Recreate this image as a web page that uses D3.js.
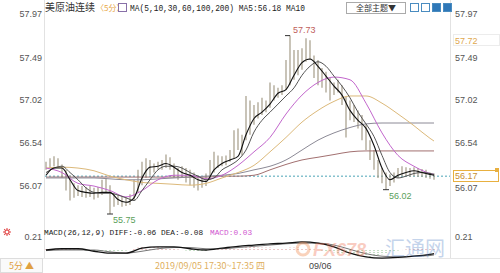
<!DOCTYPE html>
<html lang="zh">
<head>
<meta charset="utf-8">
<title>美原油连续</title>
<style>
  body { margin: 0; background: #fff; }
  svg { display: block; font-family: Arial, "Liberation Sans", sans-serif; }
</style>
</head>
<body>
<svg id="chart"></svg>
<script src="https://cdn.jsdelivr.net/npm/d3@7"></script>
<script>
// size
var W = 500, H = 273;

// price axis ticks
var yTicks = [57.97, 57.49, 57.02, 56.54, 56.07];
var macdTick = 0.21;
var xTickIdx = [67];
var xTickLab = ["09/06"];

// 5 min bars, high / low
var hi = [56.33,56.37,56.39,56.37,56.30,56.24,56.18,56.09,56.07,56.06,
          56.05,56.06,56.04,56.05,56.13,56.15,56.07,55.98,55.96,55.95,
          55.94,55.97,56.13,56.24,56.33,56.37,56.35,56.31,56.33,56.35,
          56.41,56.38,56.31,56.26,56.28,56.26,56.24,56.21,56.18,56.17,
          56.20,56.35,56.44,56.40,56.39,56.40,56.46,56.68,56.70,56.63,
          57.06,57.01,56.96,56.99,57.04,57.01,57.21,57.18,57.15,57.18,
          57.46,57.73,57.57,57.57,57.59,57.70,57.68,57.51,57.46,57.37,
          57.33,57.26,57.21,57.24,57.18,57.05,57.01,56.96,56.90,56.85,
          56.74,56.57,56.46,56.35,56.26,56.21,56.19,56.21,56.26,56.28,
          56.27,56.26,56.27,56.26,56.25,56.24,56.21,56.20];
var lo = [56.24,56.26,56.28,56.26,56.15,56.01,55.90,55.93,55.95,55.94,
          55.93,55.94,55.91,55.93,55.96,55.99,55.75,55.83,55.85,55.83,
          55.84,55.85,55.90,55.99,56.07,56.15,56.18,56.21,56.24,56.24,
          56.26,56.24,56.15,56.13,56.15,56.10,56.07,56.04,56.01,56.04,
          56.06,56.13,56.21,56.26,56.28,56.29,56.33,56.37,56.46,56.40,
          56.57,56.63,56.74,56.81,56.85,56.88,56.93,57.01,57.04,57.07,
          57.13,57.18,57.24,57.29,57.35,57.44,57.46,57.26,57.18,57.15,
          57.10,57.01,57.07,57.10,56.96,56.60,56.79,56.77,56.70,56.57,
          56.46,56.35,56.24,56.15,56.09,56.02,56.06,56.10,56.15,56.17,
          56.17,56.16,56.17,56.16,56.16,56.15,56.14,56.13];

// MA5 / MA10 read every 2 bars (plus last bar)
var maFineIdx = [0,2,4,6,8,10,12,14,16,18,20,22,24,26,28,30,32,34,36,38,40,42,44,46,48,
                 50,52,54,56,58,60,62,64,66,68,70,72,74,76,78,80,82,84,86,88,90,92,94,96,97];
var ma5 = [56.18,56.26,56.26,56.13,56.01,55.99,55.98,55.99,55.99,55.91,55.88,55.93,56.15,56.27,56.28,56.31,56.27,56.21,56.18,56.13,56.11,56.24,56.31,56.35,56.39,
           56.63,56.81,56.88,56.97,57.09,57.13,57.29,57.43,57.47,57.39,57.28,57.17,57.07,56.90,56.79,56.70,56.51,56.26,56.13,56.18,56.21,56.23,56.21,56.19,56.18];
var ma10 = [56.21,56.26,56.28,56.21,56.13,56.04,55.99,55.98,55.98,55.96,55.93,55.90,56.01,56.13,56.24,56.28,56.28,56.26,56.21,56.17,56.13,56.15,56.24,56.29,56.35,
            56.46,56.66,56.79,56.88,56.97,57.06,57.15,57.29,57.39,57.44,57.39,57.28,57.17,57.04,56.88,56.75,56.61,56.40,56.21,56.15,56.17,56.20,56.21,56.20,56.19];

// slower MAs and MACD read every 4 bars (plus last bar)
var maIdx = [0,4,8,12,16,20,24,28,32,36,40,44,48,52,56,60,64,68,72,76,80,84,88,92,96,97];
var ma30 = [56.26,56.21,56.09,56.06,56.01,55.94,56.01,56.13,56.18,56.18,56.14,56.18,56.29,56.44,56.60,56.86,57.07,57.21,57.27,57.24,56.98,56.65,56.40,56.28,56.20,56.19];
var ma60 = [56.26,56.27,56.26,56.23,56.17,56.13,56.10,56.09,56.08,56.07,56.09,56.15,56.21,56.29,56.44,56.60,56.77,56.90,57.00,57.06,57.06,56.98,56.86,56.73,56.59,56.56];
var ma100 = [56.15,56.15,56.15,56.15,56.14,56.13,56.13,56.14,56.15,56.16,56.17,56.18,56.20,56.24,56.28,56.35,56.46,56.57,56.65,56.71,56.75,56.76,56.76,56.76,56.76,56.76];
var ma200 = [56.16,56.16,56.16,56.16,56.16,56.16,56.16,56.16,56.16,56.16,56.16,56.17,56.17,56.18,56.24,56.30,56.35,56.38,56.41,56.44,56.45,56.45,56.45,56.45,56.45,56.45];
var diff = [0.00,0.02,0.02,-0.02,-0.05,-0.05,0.03,0.05,0.05,0.02,0.00,0.03,0.06,0.08,0.10,0.11,0.13,0.11,0.05,-0.05,-0.11,-0.13,-0.12,-0.10,-0.07,-0.06];
var dea = [-0.01,0.00,0.00,0.00,-0.03,-0.05,-0.02,0.02,0.04,0.04,0.02,0.02,0.04,0.06,0.08,0.10,0.11,0.11,0.08,0.01,-0.06,-0.10,-0.11,-0.10,-0.09,-0.08];
// MACD bars, one per candle
var hist = [0.02,0.02,0.03,0.03,0.03,0.02,0.01,0.01,0.01,0.00,
            -0.01,-0.02,-0.02,-0.03,-0.03,-0.03,-0.04,-0.04,-0.03,-0.02,
            -0.01,0.00,0.02,0.04,0.05,0.06,0.06,0.05,0.05,0.04,
            0.04,0.03,0.02,0.01,0.00,-0.01,-0.02,-0.03,-0.03,-0.02,
            -0.02,0.00,0.02,0.02,0.02,0.03,0.03,0.04,0.04,0.04,
            0.05,0.05,0.05,0.04,0.04,0.04,0.04,0.03,0.03,0.03,
            0.03,0.04,0.04,0.04,0.03,0.03,0.02,0.01,0.00,-0.01,
            -0.02,-0.03,-0.04,-0.05,-0.06,-0.07,-0.08,-0.09,-0.10,-0.10,
            -0.11,-0.11,-0.10,-0.09,-0.07,-0.05,-0.03,-0.02,-0.01,0.00,
            0.01,0.01,0.02,0.02,0.02,0.03,0.03,0.03];

var svg = d3.select('#chart').attr('width', W).attr('height', H);
svg.append('rect').attr('width', W).attr('height', H).attr('fill', '#fff');

var x = d3.scaleLinear().domain([0, hi.length - 1]).range([46, 434]);
var y = d3.scaleLinear().domain([55.75, 57.97]).range([214, 14]);
var ym = d3.scaleLinear().domain([-0.21, 0.21]).range([263, 237]);

// frame lines
svg.append('line').attr('x1', 44.5).attr('x2', 44.5).attr('y1', 0).attr('y2', 258).attr('stroke', '#e2e2e2');
svg.append('line').attr('x1', 450.5).attr('x2', 450.5).attr('y1', 0).attr('y2', 258).attr('stroke', '#e2e2e2');
svg.append('line').attr('x1', 0).attr('x2', W).attr('y1', 258.5).attr('y2', 258.5).attr('stroke', '#e6e6e6');

// price axis labels
var yAxisL = d3.axisLeft(y).tickValues(yTicks).tickSize(0).tickPadding(0).tickFormat(d3.format('.2f'));
var gl = svg.append('g').attr('transform', 'translate(42,0)').call(yAxisL);
gl.select('.domain').remove();
gl.selectAll('text').attr('fill', '#555').style('font-size', '9px');

var yAxisR = d3.axisRight(y).tickValues(yTicks).tickSize(0).tickPadding(0).tickFormat(d3.format('.2f'));
var gr = svg.append('g').attr('transform', 'translate(455,0)').call(yAxisR);
gr.select('.domain').remove();
gr.selectAll('text').attr('fill', '#555').style('font-size', '9px')
  .attr('dy', function(d) { return d === 56.07 ? '0.55em' : '0.32em'; });

// last price dashed line
svg.append('line').attr('x1', 45).attr('x2', 450).attr('y1', y(56.17)).attr('y2', y(56.17))
  .attr('stroke', '#4aa3b5').attr('stroke-dasharray', '2,2');

// candles
svg.append('g').selectAll('line').data(hi).enter().append('line')
  .attr('x1', function(d, i) { return x(i); })
  .attr('x2', function(d, i) { return x(i); })
  .attr('y1', function(d) { return y(d); })
  .attr('y2', function(d, i) { return y(lo[i]); })
  .attr('stroke', '#a49c88').attr('stroke-width', 1.2);

// moving averages
function drawLine(idx, vals, col, w, scale) {
  var ln = d3.line()
    .x(function(d, i) { return x(idx[i]); })
    .y(function(d) { return scale(d); })
    .curve(d3.curveMonotoneX);
  svg.append('path').datum(vals).attr('d', ln)
    .attr('fill', 'none').attr('stroke', col).attr('stroke-width', w);
}
drawLine(maIdx, ma200, '#a27070', 1, y);
drawLine(maIdx, ma100, '#8c8a96', 1, y);
drawLine(maIdx, ma60, '#dcb97a', 1, y);
drawLine(maIdx, ma30, '#c266cc', 1, y);
drawLine(maFineIdx, ma10, '#555', 1, y);
drawLine(maFineIdx, ma5, '#111', 1.1, y);

// high / low marks
var iHi = hi.indexOf(d3.max(hi));
var iLo = lo.indexOf(d3.min(lo));
var iLo2 = 85;
svg.append('line').attr('x1', x(iHi) - 5).attr('x2', x(iHi)).attr('y1', y(hi[iHi])).attr('y2', y(hi[iHi])).attr('stroke', '#333');
svg.append('text').attr('x', x(iHi) + 3).attr('y', y(hi[iHi]) - 3).text(d3.format('.2f')(hi[iHi]))
  .attr('fill', '#c0605a').style('font-size', '9px');
svg.append('line').attr('x1', x(iLo) - 3).attr('x2', x(iLo) + 3).attr('y1', y(lo[iLo])).attr('y2', y(lo[iLo])).attr('stroke', '#333');
svg.append('text').attr('x', x(iLo) + 3).attr('y', y(lo[iLo]) + 9).text(d3.format('.2f')(lo[iLo]))
  .attr('fill', '#5aa05a').style('font-size', '9px');
svg.append('line').attr('x1', x(iLo2) - 3).attr('x2', x(iLo2) + 3).attr('y1', y(lo[iLo2])).attr('y2', y(lo[iLo2])).attr('stroke', '#333');
svg.append('text').attr('x', x(iLo2) + 3).attr('y', y(lo[iLo2]) + 9).text(d3.format('.2f')(lo[iLo2]))
  .attr('fill', '#5aa05a').style('font-size', '9px');

// right price boxes
svg.append('rect').attr('x', 453.5).attr('y', 34.5).attr('width', 46).attr('height', 11).attr('fill', '#fff').attr('stroke', '#ececec');
svg.append('text').attr('x', 455).attr('y', 43.5).text('57.72').attr('fill', '#e0a850').style('font-size', '9px');
svg.append('rect').attr('x', 453.5).attr('y', 170.5).attr('width', 45).attr('height', 11).attr('fill', 'rgba(255,255,255,0.8)').attr('stroke', '#e8b040');
svg.append('text').attr('x', 455).attr('y', 179).text('56.17').attr('fill', '#c89030').style('font-size', '9px');
svg.append('rect').attr('x', 495).attr('y', 168).attr('width', 4).attr('height', 4).attr('fill', '#e8b040');

// MACD panel
svg.append('g').selectAll('line').data(hist).enter().append('line')
  .attr('x1', function(d, i) { return x(i); })
  .attr('x2', function(d, i) { return x(i); })
  .attr('y1', ym(0))
  .attr('y2', function(d) { return ym(d); })
  .attr('stroke', function(d) { return d >= 0 ? '#d89090' : '#8cc08c'; })
  .attr('stroke-dasharray', '1,1');
drawLine(maIdx, dea, '#777', 1, ym);
drawLine(maIdx, diff, '#111', 1.3, ym);

svg.append('text').attr('x', 42).attr('y', ym(macdTick) + 3).attr('text-anchor', 'end').text(macdTick.toFixed(2))
  .attr('fill', '#555').style('font-size', '9px');
svg.append('text').attr('x', 455).attr('y', ym(macdTick) + 3).text(macdTick.toFixed(2))
  .attr('fill', '#555').style('font-size', '9px');

// watermark
var wm = svg.append('g').attr('opacity', 0.35);
wm.append('circle').attr('cx', 303).attr('cy', 249).attr('r', 6).attr('fill', 'none').attr('stroke', '#f08040').attr('stroke-width', 3);
wm.append('text').attr('x', 313).attr('y', 256).text('FX678').attr('fill', '#f07050')
  .style('font-size', '18px').style('font-weight', 'bold').style('font-style', 'italic');
wm.append('text').attr('x', 385).attr('y', 256).text('汇通网').attr('fill', '#5a86c8')
  .style('font-size', '20px').style('font-family', '"Noto Sans CJK SC"');

// title rows
var mono = '"Liberation Mono", "DejaVu Sans Mono", monospace';
svg.append('text').attr('x', 45).attr('y', 11).text('美原油连续').attr('fill', '#333')
  .style('font-size', '10px').style('font-family', '"Noto Sans CJK SC"');
svg.append('text').attr('x', 96).attr('y', 11).text('〈5分〉').attr('fill', '#e8a848')
  .style('font-size', '8px').style('font-family', '"Noto Sans CJK SC"');
svg.append('rect').attr('x', 118.5).attr('y', 3.5).attr('width', 8).attr('height', 8).attr('fill', '#fff').attr('stroke', '#8870a8');
svg.append('text').attr('x', 130).attr('y', 11).text('MA(5,10,30,60,100,200) MA5:56.18 MA10')
  .attr('textLength', 175).attr('lengthAdjust', 'spacingAndGlyphs')
  .attr('fill', '#222').style('font-size', '9px').style('font-family', mono);

svg.append('rect').attr('x', 346.5).attr('y', 2.5).attr('width', 59).attr('height', 11).attr('fill', '#fff').attr('stroke', '#aaa');
svg.append('text').attr('x', 376).attr('y', 11).attr('text-anchor', 'middle').text('全部主题▼').attr('fill', '#333')
  .style('font-size', '8px').style('font-family', '"Noto Sans CJK SC"');
var iconX = [410, 421, 432, 443];
var iconFill = ['#fff', '#fff', '#2f78b8', '#2f78b8'];
svg.append('g').selectAll('rect').data(iconX).enter().append('rect')
  .attr('x', function(d) { return d + 0.5; }).attr('y', 3.5).attr('width', 8).attr('height', 8)
  .attr('fill', function(d, i) { return iconFill[i]; }).attr('stroke', '#4a8cc0');

// MACD legend, sized so the two parts sit side by side
svg.append('text').attr('x', 44).attr('y', 235).text('MACD(26,12,9) DIFF:-0.06 DEA:-0.08')
  .attr('fill', '#222').style('font-size', '7.8px').style('font-family', mono);
svg.append('text').attr('x', 210).attr('y', 235).text('MACD:0.03')
  .attr('fill', '#d058d0').style('font-size', '7.8px').style('font-family', mono);

// red marker at left
var mk = svg.append('g').attr('transform', 'translate(7,232)').attr('stroke', '#e04040');
[0, 45, 90, 135].forEach(function(a) {
  mk.append('line').attr('x1', -4).attr('x2', 4).attr('y1', 0).attr('y2', 0).attr('transform', 'rotate(' + a + ')');
});
mk.append('circle').attr('r', 2).attr('fill', '#fff');

// bottom bar
svg.append('rect').attr('x', 0.5).attr('y', 258.5).attr('width', 42).attr('height', 14).attr('fill', '#fafafa').attr('stroke', '#ddd');
svg.append('text').attr('x', 9).attr('y', 269).text('5分 ▲').attr('fill', '#e0a040')
  .style('font-size', '9px').style('font-family', '"Noto Sans CJK SC"');
svg.append('text').attr('x', 155).attr('y', 269).text('2019/09/05 17:30~17:35 四').attr('fill', '#e0b060')
  .style('font-size', '9px').style('font-family', '"Noto Sans CJK SC"');
svg.append('g').selectAll('text').data(xTickIdx).enter().append('text')
  .attr('x', function(d) { return x(d) - 5; }).attr('y', 269)
  .text(function(d, i) { return xTickLab[i]; })
  .attr('fill', '#444').style('font-size', '9px');
</script>
</body>
</html>
